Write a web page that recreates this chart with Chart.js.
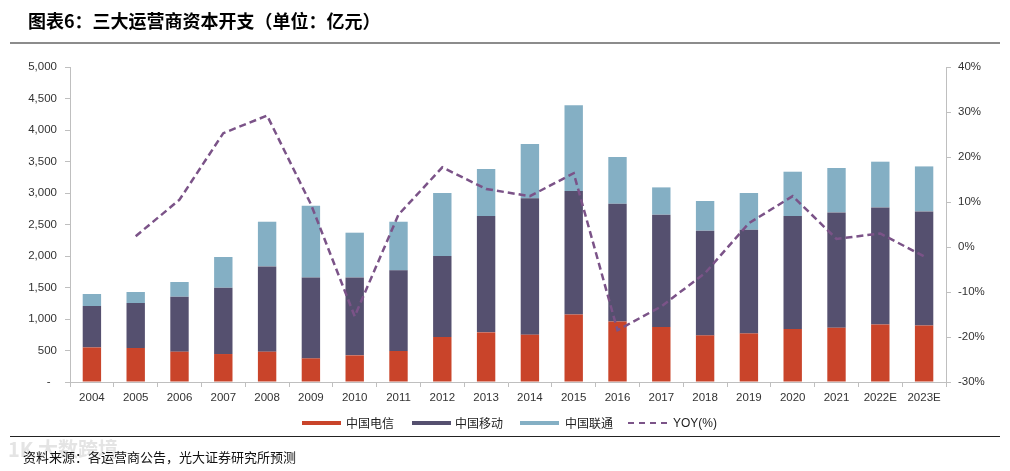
<!DOCTYPE html>
<html>
<head>
<meta charset="utf-8">
<script src="https://cdn.jsdelivr.net/npm/chart.js@4/dist/chart.umd.min.js"></script>
<style>
  html, body { margin:0; padding:0; background:#fff; }
  body { width:1010px; height:471px; position:relative; overflow:hidden; font-family:"Noto Sans CJK SC", "Liberation Sans", sans-serif; }
  #title { position:absolute; left:28px; top:8px; font-size:18px; font-weight:bold; color:#000; line-height:24px; white-space:nowrap; }
  #tline { position:absolute; left:10px; top:42px; width:990px; height:2px; background:#8c8c8c; }
  #bline { position:absolute; left:10px; top:436px; width:990px; height:1px; background:#222; }
  #wrap { position:absolute; left:0; top:0; width:1010px; height:471px; }
  .lg { position:absolute; top:414px; font-size:12px; line-height:18px; color:#222; white-space:nowrap; }
  .sw { position:absolute; top:421px; width:39px; height:4px; }
  #src { position:absolute; left:23px; top:448px; font-size:13px; line-height:18px; color:#111; white-space:nowrap; }
  #wm { position:absolute; left:8px; top:437px; font-size:20px; line-height:24px; color:#e4e4e4; font-weight:bold; white-space:nowrap; }
</style>
</head>
<body>
<div id="wrap"><canvas id="c" width="1010" height="471"></canvas></div>
<div id="title">图表6：三大运营商资本开支（单位：亿元）</div>
<div id="tline"></div>
<div class="sw" style="left:302px;background:#C9442A"></div>
<div class="lg" style="left:346px">中国电信</div>
<div class="sw" style="left:412px;background:#55506F"></div>
<div class="lg" style="left:455px">中国移动</div>
<div class="sw" style="left:520px;background:#84AFC4"></div>
<div class="lg" style="left:565px">中国联通</div>
<div class="sw" style="left:628px;top:422px;height:0;border-top:2px dashed #7B5388;background:none"></div>
<div class="lg" style="left:673px;font-family:'Liberation Sans',sans-serif">YOY(%)</div>
<div id="bline"></div>
<div id="wm">1K 大数跨境</div>
<div id="src">资料来源：各运营商公告，光大证券研究所预测</div>
<script>
const categories = ['2004','2005','2006','2007','2008','2009','2010','2011','2012','2013','2014','2015','2016','2017','2018','2019','2020','2021','2022E','2023E'];
const chinaTelecom = [549, 540, 481, 444, 481, 375, 423, 492, 714, 788, 751, 1073, 962, 873, 740, 771, 841, 862, 914, 898];
const chinaMobile  = [657, 714, 873, 1053, 1354, 1285, 1237, 1280, 1286, 1847, 2164, 1959, 1868, 1783, 1662, 1646, 1794, 1830, 1857, 1810];
const chinaUnicom  = [191, 175, 233, 487, 709, 1138, 710, 772, 1000, 746, 863, 1359, 741, 433, 471, 583, 703, 705, 726, 714];
const yoy = [null, 2.4, 10.5, 25.3, 29.2, 9.5, -15.4, 7.2, 17.7, 12.9, 11.3, 16.4, -18.5, -13.2, -5.8, 5.3, 11.3, 1.8, 3.0, -2.1];
const leftTickLabels = ['-', '500', '1,000', '1,500', '2,000', '2,500', '3,000', '3,500', '4,000', '4,500', '5,000'];
const rightTickLabels = ['-30%', '-20%', '-10%', '0%', '10%', '20%', '30%', '40%'];

const axisColor = '#BFBFBF';
const tickFont = { family: "'Liberation Sans', Arial, sans-serif", size: 11.5 };

new Chart(document.getElementById('c'), {
  data: {
    labels: categories,
    datasets: [
      { type:'line', label:'YOY(%)', data: yoy, yAxisID:'y1', borderColor:'#7B5388', borderWidth:2.5, borderDash:[7,4], pointRadius:0, fill:false, tension:0, order:0 },
      { type:'bar', label:'中国电信', data: chinaTelecom, backgroundColor:'#C9442A', yAxisID:'y', stack:'s', order:1, categoryPercentage:1, barPercentage:0.42 },
      { type:'bar', label:'中国移动', data: chinaMobile, backgroundColor:'#55506F', yAxisID:'y', stack:'s', order:1, categoryPercentage:1, barPercentage:0.42 },
      { type:'bar', label:'中国联通', data: chinaUnicom, backgroundColor:'#84AFC4', yAxisID:'y', stack:'s', order:1, categoryPercentage:1, barPercentage:0.42 }
    ]
  },
  options: {
    responsive:false,
    animation:false,
    devicePixelRatio: 1,
    layout: { padding: { top:67, left:0, right:0, bottom:0 } },
    plugins: { legend:{ display:false }, tooltip:{ enabled:false } },
    scales: {
      x: {
        stacked:true,
        offset:true,
        grid: { display:true, offset:true, drawOnChartArea:false, drawTicks:true, tickLength:5, color:axisColor },
        border: { display:true, color:axisColor, width:1 },
        ticks: { color:'#333', font:tickFont, padding:4, maxRotation:0, autoSkip:false },
        afterFit: s => { s.height = 89; }
      },
      y: {
        stacked:true,
        position:'left',
        min:0, max:5000,
        grid: { display:true, drawOnChartArea:false, drawTicks:true, tickLength:5, color:axisColor },
        border: { display:true, color:axisColor, width:1 },
        ticks: { stepSize:500, color:'#333', font:tickFont, padding:8,
          callback: (v, i) => i === 0 ? leftTickLabels[i] + '  ' : leftTickLabels[i] },
        afterFit: s => { s.width = 70; }
      },
      y1: {
        position:'right',
        min:-30, max:40,
        grid: { display:true, drawOnChartArea:false, drawTicks:true, tickLength:5, color:axisColor },
        border: { display:true, color:axisColor, width:1 },
        ticks: { stepSize:10, color:'#333', font:tickFont, padding:7,
          callback: (v, i) => rightTickLabels[i] },
        afterFit: s => { s.width = 64; }
      }
    }
  }
});
</script>
</body>
</html>
